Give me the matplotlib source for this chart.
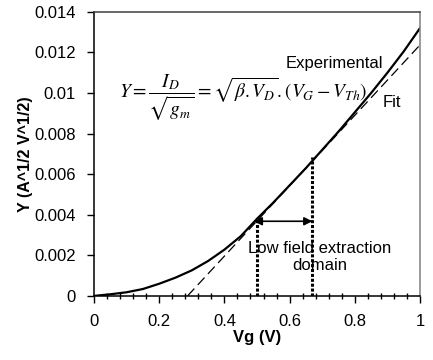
import matplotlib

matplotlib.use("Agg")
import matplotlib.pyplot as plt
from matplotlib.ticker import MultipleLocator

plt.rcParams["font.family"] = ["Liberation Sans", "DejaVu Sans"]
plt.rcParams["mathtext.fontset"] = "stix"

vg_exp = [0.0, 0.05, 0.1, 0.15, 0.2, 0.25, 0.3, 0.35, 0.4, 0.45, 0.5,
          0.55, 0.6, 0.65, 0.7, 0.75, 0.8, 0.85, 0.9, 0.95, 1.0]
y_exp = [0.0, 0.00008, 0.00018, 0.00034, 0.00060, 0.00090, 0.00126, 0.00172,
         0.00228, 0.00294, 0.00380, 0.00460, 0.00545, 0.00630, 0.00720,
         0.00810, 0.00905, 0.01000, 0.01100, 0.01205, 0.01320]

# Droite d'ajustement (fit lineaire)
vg_fit = [0.287, 1.0]
y_fit = [0.0, 0.01237]

# Domaine d'extraction a faible champ
vg_dom = [0.5, 0.67]
y_dom = [0.0037, 0.00685]
y_arrow = 0.00368

fig = plt.figure(figsize=(4.33, 3.6), dpi=100)
ax = fig.add_axes([0.217, 0.178, 0.753, 0.789])

ax.plot(vg_exp, y_exp, color="black", lw=1.6)
ax.plot(vg_fit, y_fit, color="black", lw=0.9, dashes=(8, 4))

for v, top in zip(vg_dom, y_dom):
    ax.plot([v, v], [0, top], color="black", lw=2.2, linestyle=(0, (1, 0.6)))

ax.annotate("", xy=(vg_dom[0] - 0.01, y_arrow), xytext=(vg_dom[1], y_arrow),
            arrowprops=dict(arrowstyle="<|-|>", color="black", lw=1.2,
                            mutation_scale=12, shrinkA=0, shrinkB=0))

ax.text(0.693, 0.0019, "Low field extraction\ndomain", ha="center",
        va="center", fontsize=12, linespacing=1.15)
ax.text(0.737, 0.01144, "Experimental", ha="center", va="center", fontsize=12)
ax.text(0.913, 0.00951, "Fit", ha="center", va="center", fontsize=12)
ax.text(0.458, 0.00976,
        r"$Y=\dfrac{I_D}{\sqrt{g_m}}=\sqrt{\beta{.}V_D}{.}\left(V_G-V_{Th}\right)$",
        ha="center", va="center", fontsize=14)

ax.set_xlim(0, 1)
ax.set_ylim(0, 0.014)
ax.xaxis.set_minor_locator(MultipleLocator(0.04))
ax.set_xticks([0, 0.2, 0.4, 0.6, 0.8, 1.0])
ax.set_xticklabels(["0", "0.2", "0.4", "0.6", "0.8", "1"])
ax.set_yticks([0, 0.002, 0.004, 0.006, 0.008, 0.01, 0.012, 0.014])
ax.set_yticklabels(["0", "0.002", "0.004", "0.006", "0.008", "0.01",
                    "0.012", "0.014"])
ax.tick_params(axis="both", which="major", direction="out", length=5,
               width=1, labelsize=12, pad=8)
ax.tick_params(axis="x", which="minor", direction="inout", length=5, width=1)
ax.tick_params(axis="y", which="minor", left=False)

ax.spines["right"].set_color("#808080")
ax.spines["top"].set_color("#404040")
for s in ax.spines.values():
    s.set_linewidth(1.1)

ax.set_xlabel("Vg (V)", fontsize=12, fontweight="bold", labelpad=1)
ax.set_ylabel("Y (A^1/2 V^1/2)", fontsize=11.5, fontweight="bold", labelpad=1)

fig.savefig("out.png", dpi=100)
